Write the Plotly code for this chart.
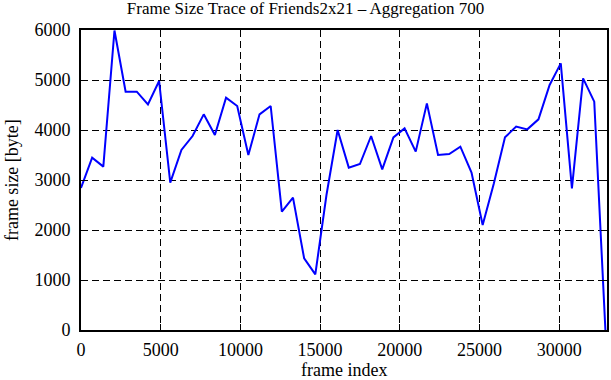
import plotly.graph_objects as go

frame_index = [i * 700 for i in range(48)]
frame_size = [2840, 3446, 3267, 5990, 4767, 4767, 4513, 4980, 2947, 3600,
              3880, 4313, 3900, 4647, 4480, 3500, 4313, 4480, 2367, 2647,
              1433, 1113, 2700, 4000, 3247, 3320, 3880, 3213, 3853, 4033,
              3567, 4533, 3500, 3520, 3667, 3150, 2100, 2930, 3853, 4067,
              4013, 4213, 4900, 5333, 2833, 5033, 4567, 0]

x_ticks = [0, 5000, 10000, 15000, 20000, 25000, 30000]
y_ticks = [0, 1000, 2000, 3000, 4000, 5000, 6000]

font_family = "Liberation Serif, Times New Roman, serif"
tick_font = dict(family=font_family, size=18, color="black")

fig = go.Figure()
fig.add_trace(go.Scatter(x=frame_index, y=frame_size, mode="lines",
                         line=dict(color="#0000ff", width=2), showlegend=False))

axis_common = dict(
    showline=True, linecolor="black", linewidth=2, mirror="allticks",
    ticks="inside", ticklen=6, tickwidth=1, tickcolor="black",
    showgrid=True, gridcolor="black", gridwidth=1, griddash="7px,4px",
    zeroline=False, tickfont=tick_font, tickformat="d",
)

fig.update_layout(
    width=611, height=380,
    paper_bgcolor="white", plot_bgcolor="white",
    margin=dict(l=81, r=2, t=30, b=50),
    title=dict(text="Frame Size Trace of Friends2x21 \u2013 Aggregation 700",
               x=0.5, xanchor="center", y=0.995, yanchor="top",
               font=dict(family=font_family, size=17, color="black")),
    xaxis=dict(range=[0, 33000], tickvals=x_ticks, ticklabelstandoff=2,
               **axis_common),
    yaxis=dict(range=[0, 6000], tickvals=y_ticks, ticklabelstandoff=5,
               **axis_common),
    annotations=[
        dict(text="frame index", xref="paper", yref="paper", x=0.5, y=-0.133,
             xanchor="center", yanchor="middle", showarrow=False,
             font=tick_font),
        dict(text="frame size [byte]", xref="paper", yref="paper", x=-0.131,
             y=0.5, xanchor="center", yanchor="middle", showarrow=False,
             textangle=-90, font=tick_font),
    ],
)

fig.write_html("out.html", config={"displayModeBar": False},
               post_script="document.body.style.margin='0';")
